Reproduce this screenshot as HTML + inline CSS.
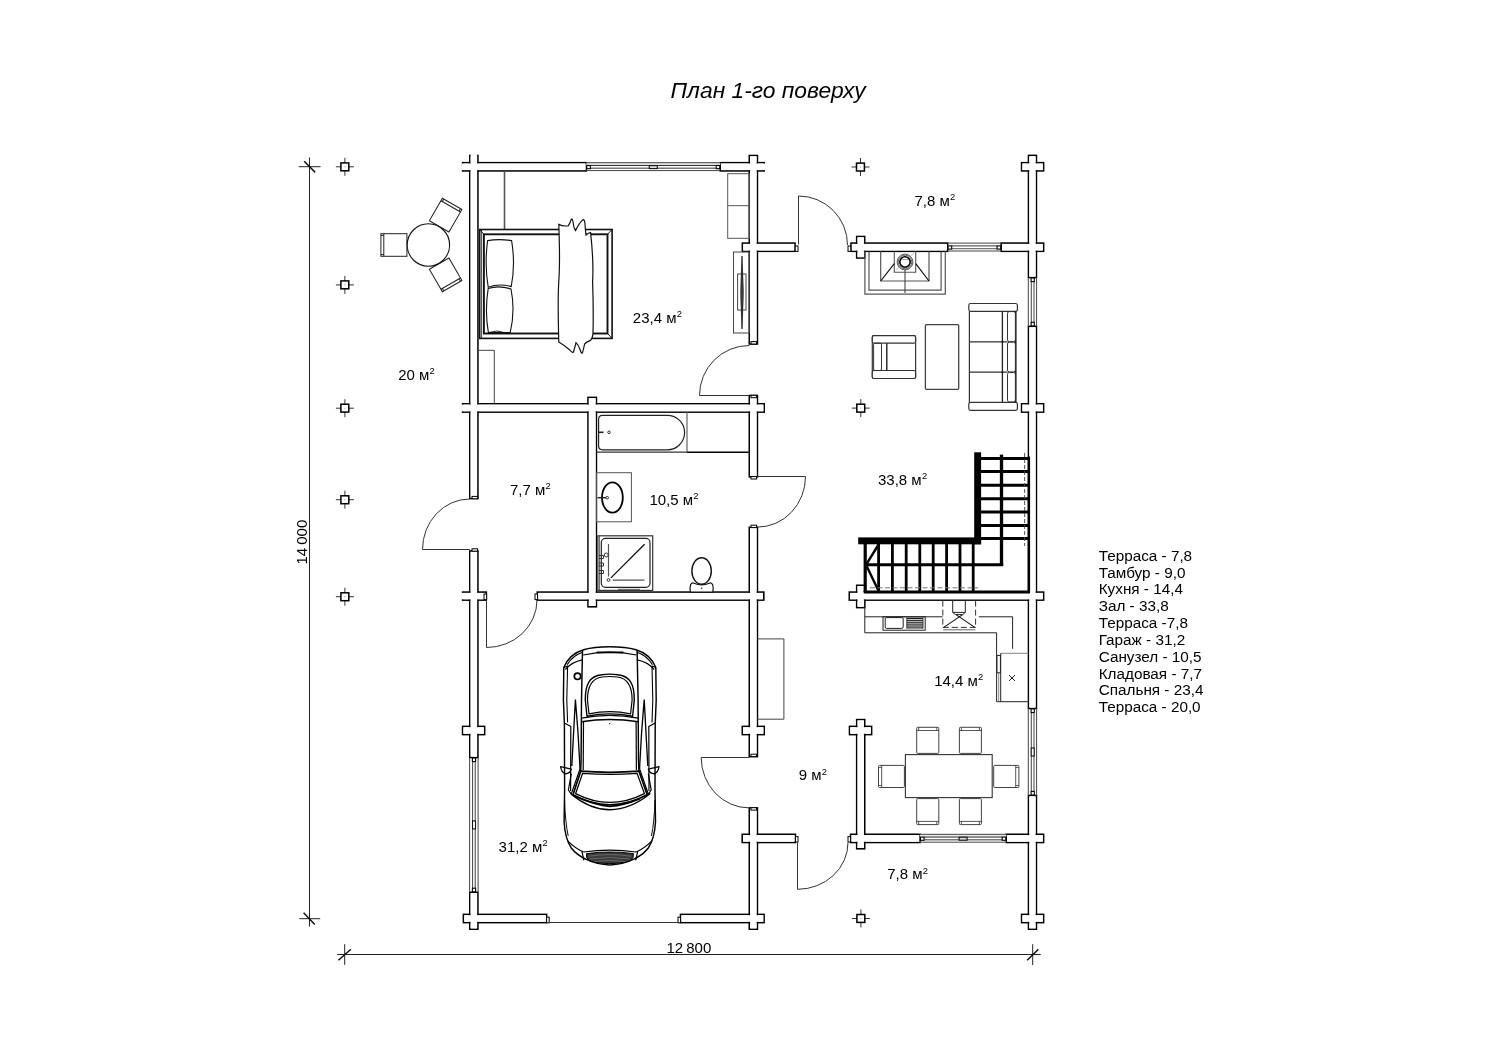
<!DOCTYPE html>
<html><head><meta charset="utf-8"><title>plan</title><style>
html,body{margin:0;padding:0;background:#fff}
body{width:1500px;height:1060px;overflow:hidden;font-family:"Liberation Sans",sans-serif}
svg{display:block;will-change:transform}
text{font-family:"Liberation Sans",sans-serif;fill:#000}
</style></head><body>
<svg width="1500" height="1060" viewBox="0 0 1500 1060">
<rect width="1500" height="1060" fill="#fff"/>
<g stroke="#222" stroke-width="1" fill="none">
<path d="M309.5 157.5V926.5M298.8 166.7H320.6M299.4 918.7H320.2"/>
<path d="M337.2 954.5H1040.7M344.7 944.2V964.8M1032.7 944.2V965"/>
</g>
<g stroke="#111" stroke-width="1.5" fill="none">
<path d="M304.2 161.2L315.2 172.4M303.6 912.8L314.8 924.6M338.4 960.2L350.9 949.3M1027.2 960.2L1038.4 949.2"/>
</g>
<g fill="none">
<path d="M335.9 166.8H353.9M344.9 157.8V175.8" stroke="#333" stroke-width="1"/>
<rect x="340.9" y="162.9" width="7.9" height="7.9" fill="#fff" stroke="#000" stroke-width="1.5"/>
<rect x="344.4" y="166.3" width="1" height="1" fill="#999"/>
<path d="M335.9 284.9H353.9M344.9 275.9V293.9" stroke="#333" stroke-width="1"/>
<rect x="340.9" y="280.9" width="7.9" height="7.9" fill="#fff" stroke="#000" stroke-width="1.5"/>
<rect x="344.4" y="284.4" width="1" height="1" fill="#999"/>
<path d="M335.9 408.2H353.9M344.9 399.2V417.2" stroke="#333" stroke-width="1"/>
<rect x="340.9" y="404.2" width="7.9" height="7.9" fill="#fff" stroke="#000" stroke-width="1.5"/>
<rect x="344.4" y="407.7" width="1" height="1" fill="#999"/>
<path d="M335.9 499.7H353.9M344.9 490.7V508.7" stroke="#333" stroke-width="1"/>
<rect x="340.9" y="495.8" width="7.9" height="7.9" fill="#fff" stroke="#000" stroke-width="1.5"/>
<rect x="344.4" y="499.2" width="1" height="1" fill="#999"/>
<path d="M335.9 596.7H353.9M344.9 587.7V605.7" stroke="#333" stroke-width="1"/>
<rect x="340.9" y="592.8" width="7.9" height="7.9" fill="#fff" stroke="#000" stroke-width="1.5"/>
<rect x="344.4" y="596.2" width="1" height="1" fill="#999"/>
<path d="M851.5 167.0H869.5M860.5 158.0V176.0" stroke="#333" stroke-width="1"/>
<rect x="856.5" y="163.1" width="7.9" height="7.9" fill="#fff" stroke="#000" stroke-width="1.5"/>
<rect x="860.0" y="166.5" width="1" height="1" fill="#999"/>
<path d="M851.8 408.1H869.8M860.8 399.1V417.1" stroke="#333" stroke-width="1"/>
<rect x="856.8" y="404.2" width="7.9" height="7.9" fill="#fff" stroke="#000" stroke-width="1.5"/>
<rect x="860.3" y="407.6" width="1" height="1" fill="#999"/>
<path d="M851.9 918.5H869.9M860.9 909.5V927.5" stroke="#333" stroke-width="1"/>
<rect x="856.9" y="914.5" width="7.9" height="7.9" fill="#fff" stroke="#000" stroke-width="1.5"/>
<rect x="860.4" y="918.0" width="1" height="1" fill="#999"/>
</g>
<g fill="none" stroke="#000" stroke-width="1.6">
<rect x="469.8" y="155.5" width="8.1" height="343.0"/>
<rect x="469.8" y="551.0" width="8.1" height="206.5"/>
<rect x="469.8" y="892.3" width="8.1" height="36.9"/>
<rect x="462.6" y="162.7" width="123.7" height="8.2"/>
<rect x="720.3" y="162.7" width="43.9" height="8.2"/>
<rect x="749.3" y="155.5" width="8.1" height="188.5"/>
<rect x="749.3" y="395.5" width="8.1" height="81.3"/>
<rect x="749.3" y="527.3" width="8.1" height="229.3"/>
<rect x="749.3" y="807.9" width="8.1" height="121.3"/>
<rect x="742.4" y="243.1" width="52.6" height="8.2"/>
<rect x="851.0" y="243.1" width="96.6" height="8.2"/>
<rect x="1001.2" y="243.1" width="42.4" height="8.2"/>
<rect x="856.7" y="236.5" width="8.0" height="21.5"/>
<rect x="462.6" y="403.8" width="301.6" height="8.3"/>
<rect x="588.0" y="397.4" width="8.4" height="209.4"/>
<rect x="1021.6" y="403.8" width="22.0" height="8.3"/>
<rect x="462.6" y="592.1" width="23.7" height="8.0"/>
<rect x="537.3" y="592.1" width="226.5" height="8.0"/>
<rect x="849.3" y="592.1" width="194.3" height="8.0"/>
<rect x="856.7" y="585.3" width="8.0" height="22.3"/>
<rect x="462.6" y="726.4" width="22.0" height="8.2"/>
<rect x="742.3" y="726.4" width="21.9" height="8.2"/>
<rect x="849.5" y="726.4" width="22.1" height="8.2"/>
<rect x="856.7" y="719.6" width="8.0" height="129.2"/>
<rect x="742.2" y="834.3" width="53.2" height="8.2"/>
<rect x="850.6" y="834.3" width="69.4" height="8.2"/>
<rect x="1006.3" y="834.3" width="37.3" height="8.2"/>
<rect x="463.4" y="914.4" width="83.2" height="8.2"/>
<rect x="680.5" y="914.4" width="83.6" height="8.2"/>
<rect x="1021.6" y="914.4" width="22.0" height="8.2"/>
<rect x="1028.5" y="155.4" width="7.9" height="122.1"/>
<rect x="1028.5" y="326.4" width="7.9" height="382.0"/>
<rect x="1028.5" y="795.5" width="7.9" height="133.7"/>
<rect x="1021.6" y="162.7" width="22.0" height="8.2"/>
</g>
<g fill="#fff" stroke="none">
<rect x="470.60" y="154.20" width="6.50" height="343.50"/>
<rect x="470.60" y="551.80" width="6.50" height="204.90"/>
<rect x="470.60" y="893.10" width="6.50" height="35.30"/>
<rect x="461.30" y="163.50" width="124.20" height="6.60"/>
<rect x="721.10" y="163.50" width="44.40" height="6.60"/>
<rect x="750.10" y="156.30" width="6.50" height="186.90"/>
<rect x="750.10" y="396.30" width="6.50" height="79.70"/>
<rect x="750.10" y="528.10" width="6.50" height="227.70"/>
<rect x="750.10" y="808.70" width="6.50" height="119.70"/>
<rect x="743.20" y="243.90" width="51.00" height="6.60"/>
<rect x="851.80" y="243.90" width="95.00" height="6.60"/>
<rect x="1002.00" y="243.90" width="40.80" height="6.60"/>
<rect x="857.50" y="237.30" width="6.40" height="19.90"/>
<rect x="461.30" y="404.60" width="302.10" height="6.70"/>
<rect x="588.80" y="398.20" width="6.80" height="207.80"/>
<rect x="1022.40" y="404.60" width="20.40" height="6.70"/>
<rect x="461.30" y="592.90" width="24.20" height="6.40"/>
<rect x="538.10" y="592.90" width="224.90" height="6.40"/>
<rect x="850.10" y="592.90" width="192.70" height="6.40"/>
<rect x="857.50" y="586.10" width="6.40" height="20.70"/>
<rect x="463.40" y="727.20" width="20.40" height="6.60"/>
<rect x="743.10" y="727.20" width="20.30" height="6.60"/>
<rect x="850.30" y="727.20" width="20.50" height="6.60"/>
<rect x="857.50" y="720.40" width="6.40" height="127.60"/>
<rect x="743.00" y="835.10" width="51.60" height="6.60"/>
<rect x="851.40" y="835.10" width="67.80" height="6.60"/>
<rect x="1007.10" y="835.10" width="35.70" height="6.60"/>
<rect x="464.20" y="915.20" width="81.60" height="6.60"/>
<rect x="681.30" y="915.20" width="82.00" height="6.60"/>
<rect x="1022.40" y="915.20" width="20.40" height="6.60"/>
<rect x="1029.30" y="156.20" width="6.30" height="120.50"/>
<rect x="1029.30" y="327.20" width="6.30" height="380.40"/>
<rect x="1029.30" y="796.30" width="6.30" height="132.10"/>
<rect x="1022.40" y="163.50" width="20.40" height="6.60"/>
</g>
<rect x="795.2" y="246.0" width="2.8" height="5.4" fill="#fff" stroke="#000" stroke-width="1"/>
<rect x="848.0" y="246.0" width="2.8" height="5.4" fill="#fff" stroke="#000" stroke-width="1"/>
<rect x="751.0" y="341.6" width="5.6" height="2.4" fill="#fff" stroke="#000" stroke-width="1"/>
<rect x="751.0" y="395.3" width="5.6" height="2.4" fill="#fff" stroke="#000" stroke-width="1"/>
<rect x="751.0" y="476.6" width="5.6" height="2.4" fill="#fff" stroke="#000" stroke-width="1"/>
<rect x="751.0" y="525.2" width="5.6" height="2.4" fill="#fff" stroke="#000" stroke-width="1"/>
<rect x="472.0" y="496.4" width="5.6" height="2.4" fill="#fff" stroke="#000" stroke-width="1"/>
<rect x="472.0" y="548.8" width="5.6" height="2.4" fill="#fff" stroke="#000" stroke-width="1"/>
<rect x="484.0" y="594.0" width="2.6" height="5.6" fill="#fff" stroke="#000" stroke-width="1"/>
<rect x="535.0" y="594.0" width="2.6" height="5.6" fill="#fff" stroke="#000" stroke-width="1"/>
<rect x="751.0" y="754.2" width="5.6" height="2.4" fill="#fff" stroke="#000" stroke-width="1"/>
<rect x="751.0" y="807.7" width="5.6" height="2.4" fill="#fff" stroke="#000" stroke-width="1"/>
<rect x="795.4" y="836.6" width="2.6" height="5.4" fill="#fff" stroke="#000" stroke-width="1"/>
<rect x="848.0" y="836.6" width="2.6" height="5.4" fill="#fff" stroke="#000" stroke-width="1"/>
<rect x="546.6" y="917.2" width="2.6" height="5.6" fill="#fff" stroke="#000" stroke-width="1"/>
<rect x="678.0" y="917.2" width="2.6" height="5.6" fill="#fff" stroke="#000" stroke-width="1"/>
<g fill="none" stroke="#333" stroke-width="1">
<path d="M798.5 244.5V196A49 49 0 0 1 847.5 245"/>
<path d="M749.3 395.5H699.5A49.8 50 0 0 1 749.3 345.5"/>
<path d="M757.4 476.5H805.5A48.1 50.6 0 0 1 757.4 527.1"/>
<path d="M469.8 549.5H422.5A47.3 50.5 0 0 1 469.8 499"/>
<path d="M486.5 600V647.5A50.5 47.5 0 0 0 537 600"/>
<path d="M749.3 757.5H701.2A48.1 50.4 0 0 0 749.3 807.9"/>
<path d="M797.5 842.5V889.3A50.5 46.8 0 0 0 848 842.5"/>
<path d="M549 922.5H678"/>
</g>
<g fill="none">
<rect x="586.3" y="162.9" width="134.0" height="2.6" fill="#e4e4e4"/>
<path d="M586.3 162.7H720.3M586.3 170.6H720.3" stroke="#444" stroke-width="1"/>
<path d="M590.3 165.5H716.3" stroke="#333" stroke-width="1"/>
<path d="M590.3 168.2H716.3" stroke="#777" stroke-width="1.4"/>
<rect x="586.8" y="165.5" width="3.6" height="3.2" fill="#fff" stroke="#000" stroke-width="1.1"/>
<rect x="716.2" y="165.5" width="3.6" height="3.2" fill="#fff" stroke="#000" stroke-width="1.1"/>
<rect x="649.3" y="165.6" width="8" height="3" fill="#ddd" stroke="#111" stroke-width="1.1"/>
</g>
<g fill="none">
<path d="M947.6 243.1H1001.2M947.6 251.0H1001.2" stroke="#444" stroke-width="1"/>
<path d="M951.6 245.9H997.2" stroke="#333" stroke-width="1"/>
<path d="M951.6 248.6H997.2" stroke="#777" stroke-width="1.4"/>
<rect x="948.1" y="245.9" width="3.6" height="3.2" fill="#fff" stroke="#000" stroke-width="1.1"/>
<rect x="997.1" y="245.9" width="3.6" height="3.2" fill="#fff" stroke="#000" stroke-width="1.1"/>
</g>
<g fill="none">
<rect x="920.0" y="834.5" width="86.3" height="2.6" fill="#e4e4e4"/>
<path d="M920.0 834.3H1006.3M920.0 842.2H1006.3" stroke="#444" stroke-width="1"/>
<path d="M924.0 837.1H1002.3" stroke="#333" stroke-width="1"/>
<path d="M924.0 839.8H1002.3" stroke="#777" stroke-width="1.4"/>
<rect x="920.5" y="837.1" width="3.6" height="3.2" fill="#fff" stroke="#000" stroke-width="1.1"/>
<rect x="1002.2" y="837.1" width="3.6" height="3.2" fill="#fff" stroke="#000" stroke-width="1.1"/>
<rect x="959.1" y="837.2" width="8" height="3" fill="#ddd" stroke="#111" stroke-width="1.1"/>
</g>
<g fill="none">
<path d="M1028.3 277.5V326.4M1036.6 277.5V326.4" stroke="#444" stroke-width="1"/>
<path d="M1031.3 281.5V322.4" stroke="#444" stroke-width="1"/>
<path d="M1034.0 281.5V322.4" stroke="#777" stroke-width="1.4"/>
<rect x="1031.1" y="278.0" width="3.2" height="3.6" fill="#fff" stroke="#000" stroke-width="1.1"/>
<rect x="1031.1" y="322.3" width="3.2" height="3.6" fill="#fff" stroke="#000" stroke-width="1.1"/>
</g>
<g fill="none">
<path d="M1028.3 708.4V795.5M1036.6 708.4V795.5" stroke="#444" stroke-width="1"/>
<path d="M1031.3 712.4V791.5" stroke="#444" stroke-width="1"/>
<path d="M1034.0 712.4V791.5" stroke="#777" stroke-width="1.4"/>
<rect x="1031.1" y="708.9" width="3.2" height="3.6" fill="#fff" stroke="#000" stroke-width="1.1"/>
<rect x="1031.1" y="791.4" width="3.2" height="3.6" fill="#fff" stroke="#000" stroke-width="1.1"/>
<rect x="1031.2" y="748.0" width="3" height="8" fill="#fff" stroke="#111" stroke-width="1.1"/>
</g>
<g fill="none">
<path d="M469.6 757.5V892.3M478.1 757.5V892.3" stroke="#444" stroke-width="1"/>
<path d="M472.6 761.5V888.3" stroke="#444" stroke-width="1"/>
<path d="M475.3 761.5V888.3" stroke="#777" stroke-width="1.4"/>
<rect x="472.4" y="758.0" width="3.2" height="3.6" fill="#fff" stroke="#000" stroke-width="1.1"/>
<rect x="472.4" y="888.2" width="3.2" height="3.6" fill="#fff" stroke="#000" stroke-width="1.1"/>
<rect x="472.5" y="820.9" width="3" height="8" fill="#fff" stroke="#111" stroke-width="1.1"/>
</g>
<path d="M504.5 171.5V229.5" fill="none" stroke="#555" stroke-width="1.6" />
<path d="M478 350.3H494.3V403.8" fill="none" stroke="#444" stroke-width="1" />
<rect x="727.7" y="173.7" width="21.6" height="64.6" fill="none" stroke="#555" stroke-width="1"/>
<path d="M727.7 205.7H749.3" fill="none" stroke="#555" stroke-width="1" />
<rect x="733.5" y="252.0" width="15.8" height="81.0" fill="none" stroke="#444" stroke-width="1"/>
<rect x="737.6" y="274.0" width="8.4" height="36.0" fill="none" stroke="#444" stroke-width="1"/>
<path d="M742 256Q744.6 292 742 329Q739.4 292 742 256Z" fill="#444" stroke="#222" stroke-width="0.8" />
<rect x="479.7" y="229.5" width="132.4" height="108.9" fill="none" stroke="#111" stroke-width="1.6"/>
<path d="M481.6 230V338" fill="none" stroke="#333" stroke-width="0.9" />
<rect x="483.9" y="234.3" width="123.6" height="99.2" fill="none" stroke="#111" stroke-width="1.9"/>
<path d="M479.7 229.5L484 234.4M612.1 338.4L607.5 333.5M612.1 229.5L607.5 234.3" fill="none" stroke="#111" stroke-width="1" />
<path d="M487.6 240.6Q499 238.6 511.6 240.6Q515.6 264 511.2 286.6Q499 283.2 488.2 287.2Q484.4 264 487.6 240.6Z" fill="#fff" stroke="#111" stroke-width="1.1" />
<path d="M488.2 288.4Q499 285 511 289Q515.4 311 510.2 332.6L488.4 332.6Q484.6 311 488.2 288.4Z" fill="#fff" stroke="#111" stroke-width="1.1" />
<path d="M489 332.5Q497 329.5 504 332.5" fill="none" stroke="#111" stroke-width="0.9" />
<path d="M558.8 224.4Q563 226.6 568.2 225.8Q570.4 223 571.2 219.2Q572.6 218.4 573.2 223Q574 229 575.6 230.6Q579 223 583 219.6Q584.6 219.4 585 224Q585.4 231 586 235Q588.6 232.4 590.6 232.6Q593.8 262 592.6 282Q593.6 310 593 333.6Q592.6 338 590.6 340.4Q587 341.6 584.6 344Q583.6 349 582.4 353Q581.2 353.6 580.2 350Q578.6 345 576 342.6Q575 347 573.4 352.2Q572 353 569.8 350Q564 345 558.8 342Q557.6 300 558.8 281Q560.2 262 558.8 224.4Z" fill="#fff" stroke="#111" stroke-width="1.2" />
<g transform="translate(428.4 245.0) rotate(180)" fill="#fff" stroke="#222" stroke-width="1">
<rect x="21.5" y="-11.3" width="26" height="22.6"/>
<path d="M44.6 -11.3V11.3M44.6 -9.6H47.5M44.6 9.6H47.5"/>
</g>
<g transform="translate(428.4 245.0) rotate(-60)" fill="#fff" stroke="#222" stroke-width="1">
<rect x="21.5" y="-11.3" width="26" height="22.6"/>
<path d="M44.6 -11.3V11.3M44.6 -9.6H47.5M44.6 9.6H47.5"/>
</g>
<g transform="translate(428.4 245.0) rotate(60)" fill="#fff" stroke="#222" stroke-width="1">
<rect x="21.5" y="-11.3" width="26" height="22.6"/>
<path d="M44.6 -11.3V11.3M44.6 -9.6H47.5M44.6 9.6H47.5"/>
</g>
<circle cx="428.4" cy="245.0" r="21.2" fill="#fff" stroke="#111" stroke-width="1.1"/>
<path d="M864.9 251.3V294.2H945.3V251.3" fill="none" stroke="#555" stroke-width="1.2" />
<path d="M869 251.5V290.2H941.1V251.5" fill="none" stroke="#555" stroke-width="1.2" />
<path d="M880.7 251.5V281H929V251.5" fill="none" stroke="#555" stroke-width="1.2" />
<path d="M894.3 251.5V272.3H915.7V251.5" fill="none" stroke="#555" stroke-width="1.1" />
<path d="M905 270V293" fill="none" stroke="#444" stroke-width="1.1" />
<path d="M894.3 263.7L880.7 281M915.7 263.7L929 281" fill="none" stroke="#111" stroke-width="1.2" />
<path d="M896 270L914 253" fill="none" stroke="#aaa" stroke-width="0.7" />
<circle cx="905" cy="262" r="7.9" fill="#fff" stroke="#333" stroke-width="0.8"/>
<circle cx="905" cy="262" r="6.9" fill="none" stroke="#333" stroke-width="0.8"/>
<circle cx="905" cy="262" r="5.2" fill="#fff" stroke="#000" stroke-width="1.6"/>
<path d="M901.5 259.6H908.5" fill="none" stroke="#888" stroke-width="0.8" />
<rect x="872.3" y="335.7" width="43.3" height="42.8" fill="none" stroke="#333" stroke-width="1.2" rx="1.5"/>
<rect x="872.3" y="335.7" width="43.3" height="7.5" fill="#fff" stroke="#333" stroke-width="1.2" rx="1.8"/>
<rect x="872.3" y="370.5" width="43.3" height="8.0" fill="#fff" stroke="#333" stroke-width="1.2" rx="1.8"/>
<rect x="873.6" y="343.2" width="7.9" height="27.3" fill="none" stroke="#333" stroke-width="1.0" rx="1.5"/>
<path d="M886.8 343.2V370.5" fill="none" stroke="#222" stroke-width="1.4" />
<rect x="925.4" y="324.7" width="33.3" height="64.6" fill="none" stroke="#444" stroke-width="1.3" rx="1"/>
<rect x="968.8" y="303.5" width="48.6" height="7.8" fill="#fff" stroke="#333" stroke-width="1.2" rx="1.8"/>
<rect x="968.8" y="402.3" width="48.6" height="8.0" fill="#fff" stroke="#333" stroke-width="1.2" rx="1.8"/>
<path d="M969.4 311.3V402.3" fill="none" stroke="#333" stroke-width="1.2" />
<path d="M1015.8 311.3V402.3" fill="none" stroke="#111" stroke-width="1.5" />
<path d="M1002.4 311.3V402.3" fill="none" stroke="#222" stroke-width="1.3" />
<rect x="1007.5" y="311.6" width="7.9" height="30.0" fill="none" stroke="#333" stroke-width="1.0" rx="1.8"/>
<rect x="1007.5" y="342.2" width="7.9" height="29.7" fill="none" stroke="#333" stroke-width="1.0" rx="1.8"/>
<rect x="1007.5" y="372.5" width="7.9" height="29.5" fill="none" stroke="#333" stroke-width="1.0" rx="1.8"/>
<path d="M969.4 341.8H1007.5M969.4 372.2H1007.5" fill="none" stroke="#333" stroke-width="1.2" />
<circle cx="1002.4" cy="341.8" r="1" fill="#111"/><circle cx="1002.4" cy="372.2" r="1" fill="#111"/>
<g stroke="#000" fill="none">
<path d="M981 458.5H1028.6" stroke-width="3"/>
<path d="M981 471.6H1028.6" stroke-width="3"/>
<path d="M981 485.2H1028.6" stroke-width="3"/>
<path d="M981 498.7H1028.6" stroke-width="3"/>
<path d="M981 512.1H1028.6" stroke-width="3"/>
<path d="M981 525.4H1028.6" stroke-width="3"/>
<path d="M981 538.6H1028.6" stroke-width="3"/>
<path d="M1001.5 454.6V566" stroke-width="3.3"/>
<path d="M1024.6 453V546" stroke="#444" stroke-width="0.9" stroke-dasharray="4 2"/>
<path d="M878.6 544V592" stroke-width="2.8"/>
<path d="M892.4 544V592" stroke-width="2.8"/>
<path d="M906.2 544V592" stroke-width="2.8"/>
<path d="M919.8 544V592" stroke-width="2.8"/>
<path d="M933.2 544V592" stroke-width="2.8"/>
<path d="M946.6 544V592" stroke-width="2.8"/>
<path d="M960.0 544V592" stroke-width="2.8"/>
<path d="M973.2 544V592" stroke-width="2.8"/>
<path d="M865.4 564.8H1003.2" stroke-width="3"/>
<path d="M865.2 540V592" stroke-width="3.2"/>
<path d="M866 564.8L878.6 544.5M866 564.8L878.6 591" stroke-width="2.4"/>
<path d="M863.7 592.1H1030" stroke-width="3"/>
<path d="M1028.9 456.5V592" stroke-width="2.4"/>
<path d="M870 587.8H978" stroke="#777" stroke-width="1" stroke-dasharray="5 2.5"/>
<rect x="974.2" y="452.3" width="6.9" height="92" fill="#000" stroke="none"/>
<rect x="858.2" y="537.4" width="122.9" height="6.9" fill="#000" stroke="none"/>
</g>
<path d="M864.8 600.1V632.8H996.6V701.7H1028.6" fill="none" stroke="#222" stroke-width="1" />
<path d="M864.8 616.8H942.6M978.8 616.8H1012.6V648.8" fill="none" stroke="#222" stroke-width="1" />
<rect x="883.0" y="616.8" width="42.2" height="13.4" fill="none" stroke="#222" stroke-width="1"/>
<rect x="885.2" y="617.6" width="18.0" height="10.8" fill="none" stroke="#222" stroke-width="1" rx="1.5"/>
<path d="M906.8 618.4H923" fill="none" stroke="#111" stroke-width="1.1" />
<path d="M906.8 620.3H923" fill="none" stroke="#111" stroke-width="1.1" />
<path d="M906.8 622.2H923" fill="none" stroke="#111" stroke-width="1.1" />
<path d="M906.8 624.1H923" fill="none" stroke="#111" stroke-width="1.1" />
<path d="M906.8 626.0H923" fill="none" stroke="#111" stroke-width="1.1" />
<path d="M906.8 627.9H923" fill="none" stroke="#111" stroke-width="1.1" />
<path d="M906.8 617.6V628.6M923 617.6V628.6" fill="none" stroke="#222" stroke-width="0.8" />
<path d="M942.8 600.6V627.4M975.6 600.6V627.4M942.8 627.4H975.6" fill="none" stroke="#333" stroke-width="1" stroke-dasharray="6 3"/>
<path d="M943.2 629.8H975.4" fill="none" stroke="#666" stroke-width="1" />
<path d="M952.7 600.1V612.4L955.6 614.6H962.8L965.3 612.4V600.1M952.7 612.4H965.3" fill="none" stroke="#222" stroke-width="1" />
<path d="M956 614.6L975.2 627.6M962.6 614.6L943.4 627.6" fill="none" stroke="#111" stroke-width="1.1" />
<path d="M1000.7 653.3H1028.6" fill="none" stroke="#777" stroke-width="0.9" />
<path d="M1000.7 653.3V701.7" fill="none" stroke="#222" stroke-width="1" />
<rect x="997.0" y="655.4" width="3.4" height="17.4" fill="#fff" stroke="#222" stroke-width="1"/>
<path d="M998.7 672.8V701.7" fill="none" stroke="#666" stroke-width="0.8" />
<path d="M1009 675L1015 681M1015 675L1009 681" fill="none" stroke="#222" stroke-width="1" />
<rect x="916.7" y="727.3" width="22.1" height="26.1" fill="#fff" stroke="#444" stroke-width="1" rx="1"/>
<path d="M916.7 730.5H938.8M918.7 727.3V730.5M936.8 727.3V730.5" fill="none" stroke="#444" stroke-width="0.9" />
<rect x="959.4" y="727.3" width="22.0" height="26.1" fill="#fff" stroke="#444" stroke-width="1" rx="1"/>
<path d="M959.4 730.5H981.4M961.4 727.3V730.5M979.4 727.3V730.5" fill="none" stroke="#444" stroke-width="0.9" />
<rect x="916.7" y="798.6" width="22.1" height="26.0" fill="#fff" stroke="#444" stroke-width="1" rx="1"/>
<path d="M916.7 821.4H938.8M918.7 824.6V821.4M936.8 824.6V821.4" fill="none" stroke="#444" stroke-width="0.9" />
<rect x="959.4" y="798.6" width="22.0" height="26.0" fill="#fff" stroke="#444" stroke-width="1" rx="1"/>
<path d="M959.4 821.4H981.4M961.4 824.6V821.4M979.4 824.6V821.4" fill="none" stroke="#444" stroke-width="0.9" />
<rect x="878.5" y="765.4" width="25.9" height="22.1" fill="#fff" stroke="#444" stroke-width="1" rx="1"/>
<path d="M881.7 765.4V787.5M878.5 767.4H881.7M878.5 785.5H881.7" fill="none" stroke="#444" stroke-width="0.9" />
<rect x="993.7" y="765.4" width="25.2" height="22.1" fill="#fff" stroke="#444" stroke-width="1" rx="1"/>
<path d="M1015.7 765.4V787.5M1018.9 767.4H1015.7M1018.9 785.5H1015.7" fill="none" stroke="#444" stroke-width="0.9" />
<rect x="905.4" y="754.6" width="86.8" height="43.0" fill="#fff" stroke="#333" stroke-width="1.1"/>
<path d="M596.4 452.2H687" fill="none" stroke="#333" stroke-width="1.2" />
<path d="M687 452.2H748.8" fill="none" stroke="#000" stroke-width="1.5" />
<path d="M687 412.1V452.3" fill="none" stroke="#555" stroke-width="1.1" />
<path d="M602.5 415.4H667.4A17.2 17.2 0 0 1 667.4 449.8H602.5Q598.6 449.8 598.6 445.8V419.4Q598.6 415.4 602.5 415.4Z" fill="none" stroke="#222" stroke-width="1.2" />
<path d="M598.9 432.3H603.5" fill="none" stroke="#222" stroke-width="1.6" />
<circle cx="609" cy="432.3" r="1.3" fill="#fff" stroke="#222" stroke-width="0.9"/>
<rect x="596.4" y="472.7" width="35.0" height="49.1" fill="none" stroke="#555" stroke-width="1"/>
<ellipse cx="612.4" cy="497.5" rx="10.4" ry="15.2" fill="#fff" stroke="#000" stroke-width="1.8"/>
<path d="M597.5 497.7H606" fill="none" stroke="#222" stroke-width="1.5" />
<circle cx="607.2" cy="497.7" r="1.3" fill="#fff" stroke="#222" stroke-width="0.9"/>
<rect x="597.9" y="535.8" width="54.8" height="54.6" fill="none" stroke="#333" stroke-width="1.2"/>
<path d="M599.4 536V590" fill="none" stroke="#555" stroke-width="0.9" />
<rect x="601.3" y="538.4" width="48.7" height="48.9" fill="none" stroke="#222" stroke-width="1.2" rx="4"/>
<path d="M644.6 544.2L610.9 577.9" fill="none" stroke="#111" stroke-width="1.3" />
<path d="M612.7 580.2H644.4" fill="none" stroke="#555" stroke-width="1.3" />
<path d="M608.5 544V576.6" fill="none" stroke="#555" stroke-width="1.2" />
<circle cx="608.5" cy="580" r="1.4" fill="#fff" stroke="#222" stroke-width="0.9"/>
<path d="M599 555.5h4.5v3h-4.5M599 563h4.5v3h-4.5M599 570.5h4.5v3h-4.5" fill="none" stroke="#222" stroke-width="0.9" />
<circle cx="606.2" cy="555" r="2" fill="#fff" stroke="#222" stroke-width="0.9"/>
<path d="M618 589.3H640" fill="none" stroke="#555" stroke-width="1" />
<ellipse cx="701.6" cy="571" rx="9.7" ry="13.2" fill="#fff" stroke="#111" stroke-width="1.4"/>
<path d="M690.4 592.1Q689.4 588 690.6 584.6Q692 582.4 694 583.2Q701.6 586.6 709.2 583.2Q711.2 582.4 712.6 584.6Q713.8 588 712.8 592.1Z" fill="#fff" stroke="#111" stroke-width="1.2" />
<circle cx="701.6" cy="588.3" r="0.8" fill="#222"/>
<path d="M757.4 638.9H783.9V719.2H757.4" fill="none" stroke="#444" stroke-width="1" />
<g fill="none" stroke="#000" stroke-linejoin="round">
<g transform="translate(609.8 0) scale(1 1)">
<path d="M0 646.8C-10 646.8 -20 648 -26.2 649.7C-36 652.6 -42.6 659 -46 667.5L-46.4 700L-45.4 724L-45.2 790L-45.7 822C-45 834 -42.5 842 -38.5 848C-32 856.5 -18 864.2 0 865" stroke-width="1.44"/>
<path d="M-44.4 669.5Q-38 661.8 -27.4 659.8" stroke-width="1.20"/>
<path d="M-42.6 664.6Q-37 655.4 -27.2 652.2" stroke-width="1.08"/>
<path d="M-28.4 718.2Q-14 715.6 0 715.4" stroke-width="1.20"/>
<path d="M-46 667.5L-42.2 666L-43 700L-42.2 722.5" stroke-width="1.08"/>
<path d="M0 652.2Q-14 652.2 -26.6 655" stroke-width="1.20"/>
<path d="M-27.3 650L-28.3 700L-28.7 760L-29.1 771" stroke-width="1.44"/>
<path d="M-26.3 722L-26.6 770" stroke-width="1.20"/>
<path d="M-45.4 723L-39 726.5L-39.2 791" stroke-width="1.20"/>
<path d="M-34.4 699.5L-38 766M-34.4 699.5Q-31.2 735 -29.8 769" stroke-width="1.32"/>
<path d="M-49.2 766.6L-38.5 769.2Q-40 773.6 -44.5 773.8Q-48.6 772 -49.2 766.6Z" stroke-width="1.20"/>
<path d="M-38.5 773.6L-41.4 790L-38.6 794.2" stroke-width="1.20"/>
<path d="M-29.8 769L-38.6 794.2" stroke-width="1.20"/>
<path d="M-42.4 840.6Q-35 848 -26.4 852" stroke-width="1.20"/>
<path d="M-27.8 851.6L-25.9 860.4" stroke-width="1.20"/>
<path d="M-45.2 800Q-44.6 822 -41.6 836" stroke-width="0.96"/>
</g>
<g transform="translate(609.8 0) scale(-1 1)">
<path d="M0 646.8C-10 646.8 -20 648 -26.2 649.7C-36 652.6 -42.6 659 -46 667.5L-46.4 700L-45.4 724L-45.2 790L-45.7 822C-45 834 -42.5 842 -38.5 848C-32 856.5 -18 864.2 0 865" stroke-width="1.44"/>
<path d="M-44.4 669.5Q-38 661.8 -27.4 659.8" stroke-width="1.20"/>
<path d="M-42.6 664.6Q-37 655.4 -27.2 652.2" stroke-width="1.08"/>
<path d="M-28.4 718.2Q-14 715.6 0 715.4" stroke-width="1.20"/>
<path d="M-46 667.5L-42.2 666L-43 700L-42.2 722.5" stroke-width="1.08"/>
<path d="M0 652.2Q-14 652.2 -26.6 655" stroke-width="1.20"/>
<path d="M-27.3 650L-28.3 700L-28.7 760L-29.1 771" stroke-width="1.44"/>
<path d="M-26.3 722L-26.6 770" stroke-width="1.20"/>
<path d="M-45.4 723L-39 726.5L-39.2 791" stroke-width="1.20"/>
<path d="M-34.4 699.5L-38 766M-34.4 699.5Q-31.2 735 -29.8 769" stroke-width="1.32"/>
<path d="M-49.2 766.6L-38.5 769.2Q-40 773.6 -44.5 773.8Q-48.6 772 -49.2 766.6Z" stroke-width="1.20"/>
<path d="M-38.5 773.6L-41.4 790L-38.6 794.2" stroke-width="1.20"/>
<path d="M-29.8 769L-38.6 794.2" stroke-width="1.20"/>
<path d="M-42.4 840.6Q-35 848 -26.4 852" stroke-width="1.20"/>
<path d="M-27.8 851.6L-25.9 860.4" stroke-width="1.20"/>
<path d="M-45.2 800Q-44.6 822 -41.6 836" stroke-width="0.96"/>
</g>
<g transform="translate(609.8 0)">
<path d="M-13 652.4H13.6" stroke-width="1.8"/>
<path d="M-22.8 716.2L-24.5 700C-24.6 684 -20 676 -8 674.7Q0 673.6 8 674.7C20 676 24.6 684 24.5 700L22.8 716.2Q0 711.6 -22.8 716.2Z" stroke-width="1.4"/>
<path d="M-20.8 713.8L-22.3 700C-22.4 686 -18 678.4 -7.6 677Q0 676 7.6 677C18 678.4 22.4 686 22.3 700L20.8 713.8Q0 709.6 -20.8 713.8Z" stroke-width="1.2"/>
<path d="M-28.4 721.8Q0 717.2 28.4 721.8" stroke-width="1.5"/>
<path d="M-29.1 771.2Q0 773.4 29.2 771.2L37.4 794.8Q0 814.8 -36.8 794.8Z" stroke-width="1.7"/>
<path d="M-27.2 773.4Q0 775.4 27.3 773.4L34.6 793.6Q0 811.2 -34.2 793.6Z" stroke-width="1.3"/>
<path d="M-34 796.6Q-14 805.6 0 806.4Q14 805.6 30 798.8" stroke-width="1.6"/>
<path d="M-38.6 794.2Q0 825.6 40.6 793.6" stroke-width="1.3"/>
<path d="M-26.4 852Q0 848.2 26.4 852" stroke-width="1.2"/>
<path d="M-23.2 853.6Q0 850.4 23.6 853.6Q24.6 858 20 861Q0 866.4 -20 861Q-24.6 858 -23.2 853.6Z" fill="#3a3a3a" stroke-width="1"/>
<path d="M-21 856.2Q0 853 21 856.2M-20 859Q0 856 20 859M-16 861.6Q0 859.2 16 861.6" stroke="#888" stroke-width="0.6"/>
<circle cx="-32.3" cy="676.3" r="3.2" stroke-width="1.7"/>
<circle cx="-0.2" cy="723.6" r="0.7" fill="#111" stroke="none"/>
</g></g>
<text x="632.8" y="323.0" font-size="15">23,4 м<tspan dx="0.2" dy="-5.6" font-size="9.4">2</tspan></text>
<text x="398.2" y="379.8" font-size="15">20 м<tspan dx="0.2" dy="-5.6" font-size="9.4">2</tspan></text>
<text x="914.4" y="205.8" font-size="15">7,8 м<tspan dx="0.2" dy="-5.6" font-size="9.4">2</tspan></text>
<text x="878.0" y="485.0" font-size="15">33,8 м<tspan dx="0.2" dy="-5.6" font-size="9.4">2</tspan></text>
<text x="510.0" y="494.5" font-size="15">7,7 м<tspan dx="0.2" dy="-5.6" font-size="9.4">2</tspan></text>
<text x="649.4" y="504.6" font-size="15">10,5 м<tspan dx="0.2" dy="-5.6" font-size="9.4">2</tspan></text>
<text x="934.2" y="685.8" font-size="15">14,4 м<tspan dx="0.2" dy="-5.6" font-size="9.4">2</tspan></text>
<text x="798.8" y="780.2" font-size="15">9 м<tspan dx="0.2" dy="-5.6" font-size="9.4">2</tspan></text>
<text x="887.2" y="879.4" font-size="15">7,8 м<tspan dx="0.2" dy="-5.6" font-size="9.4">2</tspan></text>
<text x="498.6" y="851.6" font-size="15">31,2 м<tspan dx="0.2" dy="-5.6" font-size="9.4">2</tspan></text>
<text transform="translate(670.6 98.4) scale(1 0.935)" font-size="22.8" font-style="italic">План 1-го поверху</text>
<text x="666.4" y="952.6" font-size="15" word-spacing="-1">12 800</text>
<text transform="translate(307.4 564.6) rotate(-90)" font-size="15" word-spacing="-1">14 000</text>
<text transform="translate(1098.7 560.70) scale(1 0.94)" font-size="15.3">Терраса - 7,8</text>
<text transform="translate(1098.7 577.55) scale(1 0.94)" font-size="15.3">Тамбур - 9,0</text>
<text transform="translate(1098.7 594.39) scale(1 0.94)" font-size="15.3">Кухня - 14,4</text>
<text transform="translate(1098.7 611.24) scale(1 0.94)" font-size="15.3">Зал - 33,8</text>
<text transform="translate(1098.7 628.08) scale(1 0.94)" font-size="15.3">Терраса -7,8</text>
<text transform="translate(1098.7 644.93) scale(1 0.94)" font-size="15.3">Гараж - 31,2</text>
<text transform="translate(1098.7 661.77) scale(1 0.94)" font-size="15.3">Санузел - 10,5</text>
<text transform="translate(1098.7 678.62) scale(1 0.94)" font-size="15.3">Кладовая - 7,7</text>
<text transform="translate(1098.7 695.46) scale(1 0.94)" font-size="15.3">Спальня - 23,4</text>
<text transform="translate(1098.7 712.31) scale(1 0.94)" font-size="15.3">Терраса - 20,0</text>
</svg>
</body></html>
